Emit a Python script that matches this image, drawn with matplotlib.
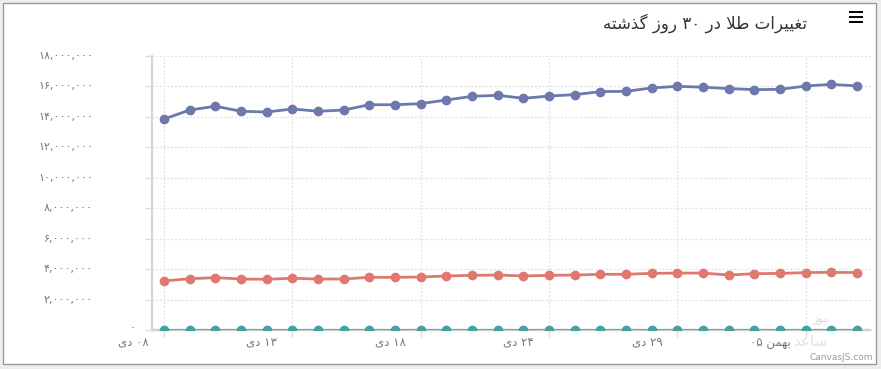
import matplotlib
matplotlib.use("Agg")
import matplotlib.pyplot as plt
from matplotlib.patches import Rectangle
import matplotlib.transforms as mtransforms

# ---------------- data ----------------
day_labels = ["۰۸ دی", "۱۳ دی", "۱۸ دی", "۲۴ دی", "۲۹ دی", "۰۵ بهمن"]
label_idx = [0, 5, 10, 15, 20, 25]
title_text = "تغییرات طلا در ۳۰ روز گذشته"

series_blue = [13.86, 14.45, 14.70, 14.37, 14.32, 14.52, 14.37, 14.45, 14.80, 14.80,
               14.87, 15.11, 15.35, 15.42, 15.22, 15.37, 15.46, 15.66, 15.68, 15.90,
               16.01, 15.95, 15.86, 15.79, 15.81, 16.03, 16.14, 16.03]
series_red = [3.22, 3.37, 3.44, 3.35, 3.33, 3.40, 3.35, 3.35, 3.46, 3.46,
              3.48, 3.55, 3.59, 3.61, 3.55, 3.59, 3.61, 3.66, 3.66, 3.72,
              3.74, 3.74, 3.61, 3.70, 3.72, 3.77, 3.79, 3.77]
series_teal = [0.02, 0.02, 0.02, 0.02, 0.02, 0.02, 0.02, 0.02, 0.02, 0.02,
               0.02, 0.02, 0.02, 0.02, 0.02, 0.02, 0.02, 0.02, 0.02, 0.02,
               0.02, 0.02, 0.02, 0.02, 0.02, 0.02, 0.02, 0.02]
y_ticks = [0, 2, 4, 6, 8, 10, 12, 14, 16, 18]  # millions

# ---------------- minimal Persian shaping ----------------
FORMS = {  # isolated, final, initial, medial
    'ت': ('\uFE95', '\uFE96', '\uFE97', '\uFE98'),
    'غ': ('\uFECD', '\uFECE', '\uFECF', '\uFED0'),
    'ی': ('\uFEEF', '\uFEF0', '\uFEF3', '\uFEF4'),
    'ط': ('\uFEC1', '\uFEC2', '\uFEC3', '\uFEC4'),
    'ل': ('\uFEDD', '\uFEDE', '\uFEDF', '\uFEE0'),
    'گ': ('\uFB92', '\uFB93', '\uFB94', '\uFB95'),
    'ش': ('\uFEB5', '\uFEB6', '\uFEB7', '\uFEB8'),
    'ه': ('\uFEE9', '\uFEEA', '\uFEEB', '\uFEEC'),
    'ب': ('\uFE8F', '\uFE90', '\uFE91', '\uFE92'),
    'م': ('\uFEE1', '\uFEE2', '\uFEE3', '\uFEE4'),
    'ن': ('\uFEE5', '\uFEE6', '\uFEE7', '\uFEE8'),
    'ع': ('\uFEC9', '\uFECA', '\uFECB', '\uFECC'),
    'س': ('\uFEB1', '\uFEB2', '\uFEB3', '\uFEB4'),
    'ر': ('\uFEAD', '\uFEAE', None, None),
    'ا': ('\uFE8D', '\uFE8E', None, None),
    'د': ('\uFEA9', '\uFEAA', None, None),
    'و': ('\uFEED', '\uFEEE', None, None),
    'ز': ('\uFEAF', '\uFEB0', None, None),
    'ذ': ('\uFEAB', '\uFEAC', None, None),
}


def dual(c):
    return c in FORMS and FORMS[c][2] is not None


def shape_word(w):
    out = []
    i = 0
    n = len(w)
    while i < n:
        c = w[i]
        prev_joins = i > 0 and dual(w[i - 1])
        if c == 'ل' and i + 1 < n and w[i + 1] == 'ا':
            out.append('\uFEFC' if prev_joins else '\uFEFB')
            i += 2
            continue
        if c not in FORMS:
            out.append(c)
            i += 1
            continue
        iso, fin, ini, med = FORMS[c]
        next_joins = dual(c) and i + 1 < n and w[i + 1] in FORMS
        if prev_joins and next_joins:
            out.append(med)
        elif prev_joins:
            out.append(fin)
        elif next_joins:
            out.append(ini)
        else:
            out.append(iso)
        i += 1
    return ''.join(reversed(out))


def is_num(tok):
    return all(ch in '۰۱۲۳۴۵۶۷۸۹0123456789,.' for ch in tok)


def rtl(text, keep_order=False):
    toks = text.split(' ')
    vis = [t if is_num(t) else shape_word(t) for t in toks]
    if keep_order:
        return ' '.join(vis)
    return ' '.join(reversed(vis))


def fa_digits(s):
    return s.translate(str.maketrans('0123456789', '۰۱۲۳۴۵۶۷۸۹'))


# ---------------- figure ----------------
W, H = 881, 369
fig = plt.figure(figsize=(W / 100, H / 100), dpi=100)
fig.patch.set_facecolor('#eeeeee')
fig.patches.append(Rectangle((3 / W, 1 - 364 / H), 873 / W, 361 / H, transform=fig.transFigure,
                             facecolor='white', edgecolor='#9a9a9a', linewidth=1.0, zorder=-10))

FAM = ['DejaVu Sans', 'Noto Sans']
ax_l, ax_r, ax_t, ax_b = 152, 871, 56, 330
ax = fig.add_axes([ax_l / W, 1 - ax_b / H, (ax_r - ax_l) / W, (ax_b - ax_t) / H])
ax.set_facecolor('none')
ax.set_zorder(5)

x = list(range(len(series_blue)))
blue, red, teal = '#6D78AD', '#DF7970', '#45A09E'
ax.plot(x, [v * 1e6 for v in series_blue], color=blue, lw=2, marker='o', ms=6, zorder=4)
ax.plot(x, [v * 1e6 for v in series_red], color=red, lw=2, marker='o', ms=6, zorder=4)
ax.axhline(0, color='#b9e0de', lw=2.5, zorder=2)
ax.plot(x, [v * 1e6 for v in series_teal], color=teal, lw=1.2, marker='o', ms=6, zorder=3)

ax.set_xlim(-0.467, 27.54)
ax.set_ylim(0, 18e6)
ax.set_yticks([v * 1e6 for v in y_ticks])
ax.set_xticks(label_idx)
ax.set_yticklabels([])
ax.set_xticklabels([])
ax.tick_params(axis='both', length=5, color='#dddddd', width=1)
ax.grid(True, color='#e0e0e0', linestyle=(0, (1.5, 1.5)), linewidth=0.9)
for s in ['top', 'right']:
    ax.spines[s].set_visible(False)
ax.spines['left'].set_color('#d5d5d5')
ax.spines['left'].set_linewidth(1.5)
ax.spines['bottom'].set_color('#cfcfcf')
ax.spines['bottom'].set_linewidth(1)

# y labels
for v in y_ticks:
    if v == 0:
        tr = mtransforms.offset_copy(ax.get_yaxis_transform(), fig=fig, x=-16, y=2, units='dots')
        ax.text(0, 0, '۰', transform=tr, ha='right', va='center', fontsize=8,
                color='#777777', family=FAM)
    else:
        tr = mtransforms.offset_copy(ax.get_yaxis_transform(), fig=fig, x=-59, y=0, units='dots')
        ax.text(0, v * 1e6, fa_digits(f"{v * 1000000:,}"), transform=tr, ha='right', va='center',
                fontsize=8, color='#777777', family=FAM)

# x labels
for i, lab in zip(label_idx, day_labels):
    tr = mtransforms.offset_copy(ax.get_xaxis_transform(), fig=fig, x=-15, y=-13, units='dots')
    keep = 'بهمن' in lab
    ax.text(i, 0, rtl(lab, keep_order=keep), transform=tr, ha='right', va='center',
            fontsize=8.5, color='#777777', family=FAM)

# title
fig.text(807 / W, 1 - 23 / H, rtl(title_text), ha='right', va='center', fontsize=12,
         color='#333333', family=FAM)

# menu icon
for yy in (12, 17, 22):
    fig.patches.append(Rectangle((849 / W, 1 - (yy + 1.3) / H), 14 / W, 2.6 / H,
                                 transform=fig.transFigure, facecolor='black', edgecolor='none'))

# watermarks
fig.text(873 / W, 1 - 357 / H, 'CanvasJS.com', ha='right', va='center', fontsize=6.5,
         color='#9a9a9a', family=FAM)
fig.text(828 / W, 1 - 342 / H, rtl('ساعد'), ha='right', va='center', fontsize=11,
         color='#e2e2e2', family=FAM, zorder=0)
fig.text(830 / W, 1 - 320 / H, rtl('نیوز'), ha='right', va='center', fontsize=8,
         color='#d8d8d8', family=FAM, zorder=0)

fig.savefig('out.png', dpi=100, facecolor=fig.get_facecolor())
